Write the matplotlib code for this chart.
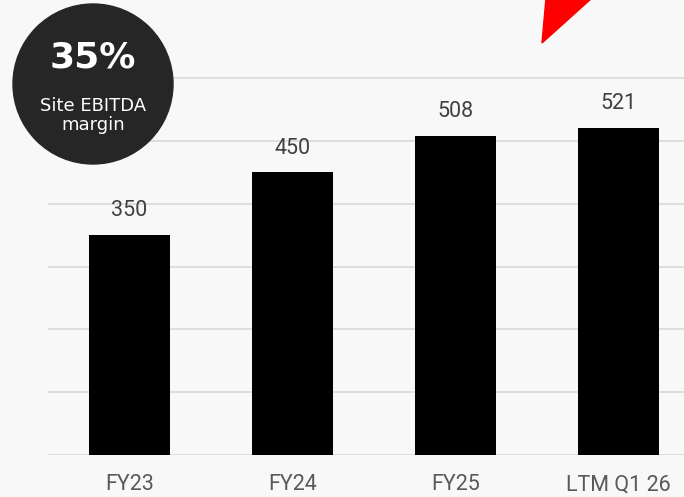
import matplotlib.pyplot as plt
from matplotlib.patches import Circle, Polygon

categories = ['FY23', 'FY24', 'FY25', 'LTM Q1 26']
values = [350, 450, 508, 521]
badge_value = '35%'
badge_label = 'Site EBITDA\nmargin'

W, H = 684, 497
bg = '#f8f8f8'
plt.rcParams['font.family'] = ['Roboto', 'DejaVu Sans']

fig = plt.figure(figsize=(W / 100, H / 100), dpi=100, facecolor=bg)

# main bar axes, in pixel terms: x from 48 to 700, baseline at 455, 600 -> 78
px_per_unit = 377 / 600
ytop = 610
ax = fig.add_axes([48 / W, 42 / H, 652 / W, ytop * px_per_unit / H])
ax.set_facecolor(bg)
x = range(len(categories))
ax.bar(x, values, width=0.5, color='black', zorder=3)
ax.set_xlim(-0.5, 3.5)
ax.set_ylim(0, ytop)
ax.set_yticks(range(0, 601, 100))
ax.yaxis.grid(True, color='#d9d9d9', linewidth=1.2)
ax.set_axisbelow(True)
ax.tick_params(axis='y', left=False, labelleft=False)
ax.tick_params(axis='x', length=0, pad=14, labelsize=15.5, labelcolor='#595959')
ax.set_xticks(list(x))
ax.set_xticklabels(categories)
for s in ax.spines.values():
    s.set_visible(False)

for xi, v in zip(x, values):
    ax.annotate(str(v), (xi, v), xytext=(0, 13.5), textcoords='offset points',
                ha='center', va='baseline', fontsize=15.5, color='#404040')

# overlay for badge and arrow, pixel coordinates
ov = fig.add_axes([0, 0, 1, 1], facecolor='none')
ov.set_xlim(0, W)
ov.set_ylim(H, 0)
ov.axis('off')
ov.add_patch(Circle((93, 84), 80, color='#262626'))
ov.text(93, 68, badge_value, ha='center', va='baseline', fontsize=26,
        fontweight='bold', color='white', family='DejaVu Sans')
lines = badge_label.split('\n')
ov.text(93, 111, lines[0], ha='center', va='baseline', fontsize=13,
        color='white', family='DejaVu Sans')
ov.text(93, 130, lines[1], ha='center', va='baseline', fontsize=13,
        color='white', family='DejaVu Sans')
ov.add_patch(Polygon([(542, 43), (546, -2), (592, -2)], closed=True, color='#ff0000'))

fig.savefig('out.png', dpi=100, facecolor=bg)
